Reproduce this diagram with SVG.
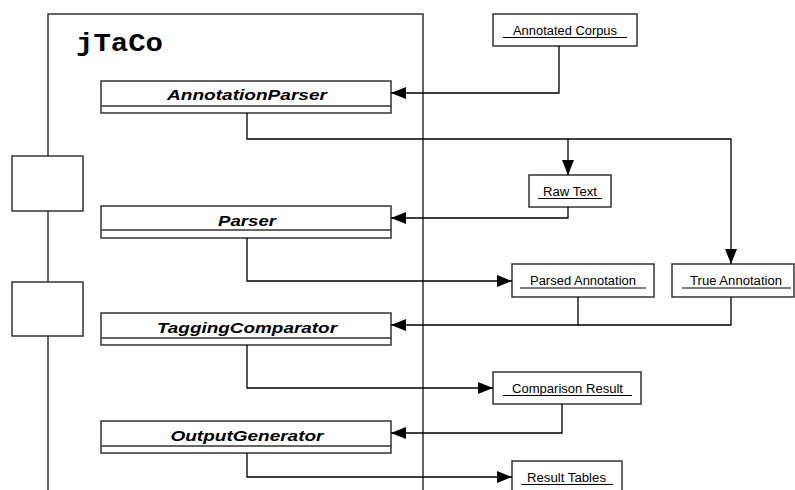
<svg xmlns="http://www.w3.org/2000/svg" width="795" height="490" viewBox="0 0 795 490">
<defs>
<style>
.box{fill:#fff;stroke:#333;stroke-width:1.5}
.frame{fill:none;stroke:#333;stroke-width:1.5}
.cls{font-family:"Liberation Sans",Arial,sans-serif;font-size:15.5px;font-weight:bold;font-style:italic;text-anchor:middle;fill:#000}
.lbl{font-family:"Liberation Sans",Arial,sans-serif;font-size:12.5px;text-anchor:middle;fill:#000}
.ul{stroke:#000;stroke-width:1}
.con{fill:none;stroke:#000;stroke-width:1.3}
</style>
<marker id="arr" markerUnits="userSpaceOnUse" markerWidth="16" markerHeight="12" refX="15" refY="6" orient="auto">
<path d="M0,0 L15,6 L0,12 Z" fill="#000"/>
</marker>
</defs>
<rect width="795" height="490" fill="#fff"/>

<g id="jTaCo">
<path class="frame" d="M48,156 L48,14 L423,14 L423,490"/>
<line class="frame" x1="48" y1="211" x2="48" y2="282"/>
<line class="frame" x1="48" y1="336" x2="48" y2="490"/>
<rect class="box" x="12" y="156" width="71" height="55"/>
<rect class="box" x="12" y="282" width="71" height="54"/>
<text x="76" y="51" font-family="'Liberation Mono','Courier New',monospace" font-weight="bold" font-size="26" textLength="87" lengthAdjust="spacingAndGlyphs">jTaCo</text>
</g>

<g id="AnnotationParser">
<rect class="box" x="101" y="81" width="290" height="32"/>
<line class="frame" x1="101" y1="106" x2="391" y2="106"/>
<text class="cls" x="247" y="100" textLength="160" lengthAdjust="spacingAndGlyphs">AnnotationParser</text>
</g>
<g id="Parser">
<rect class="box" x="101" y="206" width="290" height="32"/>
<line class="frame" x1="101" y1="230" x2="391" y2="230"/>
<text class="cls" x="247" y="226" textLength="58" lengthAdjust="spacingAndGlyphs">Parser</text>
</g>
<g id="TaggingComparator">
<rect class="box" x="101" y="313" width="290" height="32"/>
<line class="frame" x1="101" y1="338" x2="391" y2="338"/>
<text class="cls" x="247" y="333" textLength="180" lengthAdjust="spacingAndGlyphs">TaggingComparator</text>
</g>
<g id="OutputGenerator">
<rect class="box" x="101" y="421" width="290" height="32"/>
<line class="frame" x1="101" y1="446" x2="391" y2="446"/>
<text class="cls" x="247" y="441" textLength="153" lengthAdjust="spacingAndGlyphs">OutputGenerator</text>
</g>

<g id="AnnotatedCorpus">
<rect class="box" x="493" y="14" width="144" height="32"/>
<text class="lbl" x="565" y="35" textLength="104" lengthAdjust="spacingAndGlyphs">Annotated Corpus</text>
<line class="ul" x1="503" y1="37.5" x2="627" y2="37.5"/>
</g>
<g id="RawText">
<rect class="box" x="529" y="175" width="82" height="32"/>
<text class="lbl" x="570" y="196" textLength="54" lengthAdjust="spacingAndGlyphs">Raw Text</text>
<line class="ul" x1="538" y1="198.5" x2="602" y2="198.5"/>
</g>
<g id="ParsedAnnotation">
<rect class="box" x="512" y="264" width="142" height="33"/>
<text class="lbl" x="583" y="285" textLength="106" lengthAdjust="spacingAndGlyphs">Parsed Annotation</text>
<line class="ul" x1="520" y1="288" x2="646" y2="288"/>
</g>
<g id="TrueAnnotation">
<rect class="box" x="672" y="264" width="122" height="33"/>
<text class="lbl" x="736" y="285" textLength="92" lengthAdjust="spacingAndGlyphs">True Annotation</text>
<line class="ul" x1="682" y1="288" x2="791" y2="288"/>
</g>
<g id="ComparisonResult">
<rect class="box" x="493" y="372" width="148" height="32"/>
<text class="lbl" x="567.5" y="393" textLength="111" lengthAdjust="spacingAndGlyphs">Comparison Result</text>
<line class="ul" x1="503" y1="395.5" x2="632" y2="395.5"/>
</g>
<g id="ResultTables">
<rect class="box" x="512" y="461" width="110" height="40"/>
<text class="lbl" x="566.5" y="482" textLength="79" lengthAdjust="spacingAndGlyphs">Result Tables</text>
<line class="ul" x1="521" y1="484.5" x2="613" y2="484.5"/>
</g>

<g id="connectors">
<path class="con" d="M559,46 L559,93 L391,93" marker-end="url(#arr)"/>
<path class="con" d="M247,113 L247,139 L731,139 L731,264" marker-end="url(#arr)"/>
<path class="con" d="M568,139 L568,175" marker-end="url(#arr)"/>
<path class="con" d="M568,207 L568,218 L391,218" marker-end="url(#arr)"/>
<path class="con" d="M247,238 L247,281 L512,281" marker-end="url(#arr)"/>
<path class="con" d="M731,297 L731,325 L578,325"/>
<path class="con" d="M578,297 L578,325 L391,325" marker-end="url(#arr)"/>
<path class="con" d="M247,345 L247,388 L493,388" marker-end="url(#arr)"/>
<path class="con" d="M562,404 L562,433 L391,433" marker-end="url(#arr)"/>
<path class="con" d="M247,453 L247,477 L512,477" marker-end="url(#arr)"/>
</g>
</svg>
